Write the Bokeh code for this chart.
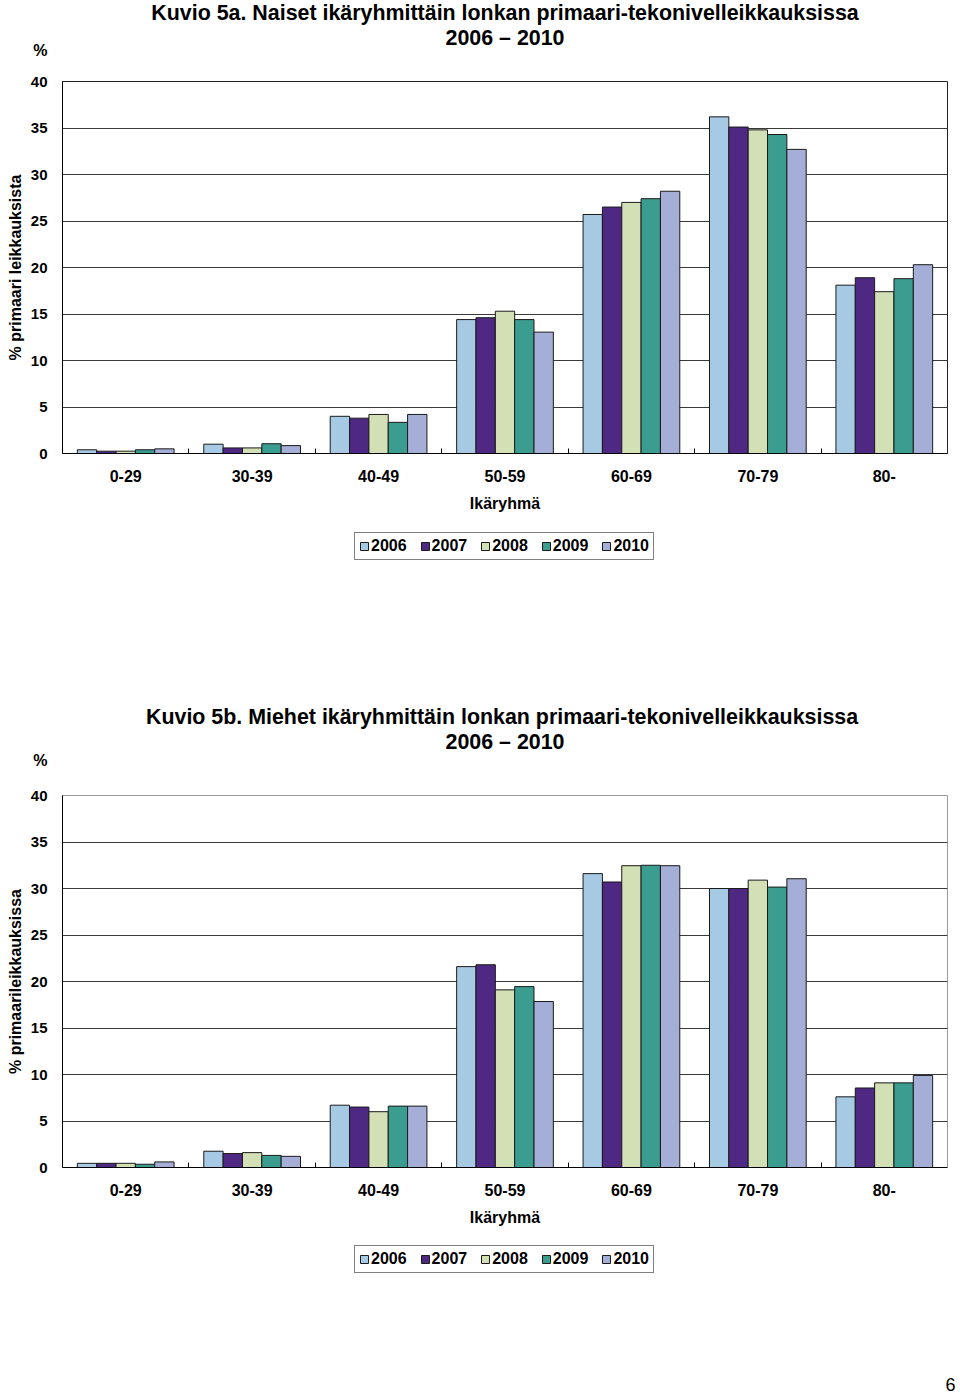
from bokeh.plotting import figure
from bokeh.models import (Range1d, FixedTicker, Label, Legend, LegendItem,
                          ColumnDataSource)
from bokeh.transform import dodge
from bokeh.layouts import column
from bokeh.embed import file_html
from bokeh.resources import INLINE

# ---------------- data ----------------
age_groups = ["0-29", "30-39", "40-49", "50-59", "60-69", "70-79", "80-"]
years = ["2006", "2007", "2008", "2009", "2010"]

women_2006 = [0.4, 1.0, 4.0, 14.4, 25.7, 36.2, 18.1]
women_2007 = [0.25, 0.6, 3.8, 14.6, 26.5, 35.1, 18.9]
women_2008 = [0.25, 0.6, 4.2, 15.3, 27.0, 34.8, 17.4]
women_2009 = [0.4, 1.05, 3.35, 14.4, 27.4, 34.3, 18.8]
women_2010 = [0.5, 0.85, 4.2, 13.05, 28.2, 32.7, 20.3]

men_2006 = [0.45, 1.75, 6.7, 21.6, 31.6, 30.0, 7.6]
men_2007 = [0.45, 1.5, 6.5, 21.8, 30.7, 30.0, 8.55]
men_2008 = [0.45, 1.6, 6.0, 19.1, 32.45, 30.9, 9.1]
men_2009 = [0.35, 1.3, 6.6, 19.45, 32.5, 30.15, 9.1]
men_2010 = [0.6, 1.2, 6.6, 17.85, 32.45, 31.05, 9.9]

y_ticks = [0, 5, 10, 15, 20, 25, 30, 35, 40]

title_a = "Kuvio 5a. Naiset ikäryhmittäin lonkan primaari-tekonivelleikkauksissa"
title_b = "Kuvio 5b. Miehet ikäryhmittäin  lonkan primaari-tekonivelleikkauksissa"
subtitle = "2006 – 2010"
ylabel_a = "% primaari leikkauksista"
ylabel_b = "% primaarileikkauksissa"
xlabel = "Ikäryhmä"
unit_label = "%"
page_number = "6"

colors = ["#A7CAE4", "#4F2884", "#D3DFB4", "#3A9D8F", "#A4AED6"]
FONT = "Liberation Sans"
OUTLINE = "#1a1a1a"
W = 952
LEFT = 62
RIGHT = 5
FRAME_H = 372


def make_source(series):
    data = {"x": [i + 0.5 for i in range(len(age_groups))]}
    for yr, vals in zip(years, series):
        data["y" + yr] = vals
    return ColumnDataSource(data)


def chart(src, height, top, ylabel, outline_color, grid_ticks):
    bottom = height - top - FRAME_H
    p = figure(width=W, height=height, x_range=Range1d(0, 7), y_range=Range1d(0, 40),
               output_backend="svg", toolbar_location=None,
               min_border_left=LEFT, min_border_right=RIGHT,
               min_border_top=top, min_border_bottom=bottom)
    p.background_fill_color = "white"
    p.border_fill_color = "white"
    p.outline_line_color = outline_color
    p.outline_line_width = 1

    bw = 0.153
    for k, yr in enumerate(years):
        p.vbar(x=dodge("x", (k - 2) * bw, range=p.x_range), top="y" + yr,
               width=bw, source=src, fill_color=colors[k],
               line_color=OUTLINE, line_width=1)

    xa = p.xaxis[0]
    xa.ticker = FixedTicker(ticks=[i + 0.5 for i in range(len(age_groups))],
                            minor_ticks=[i for i in range(1, len(age_groups))])
    xa.major_label_overrides = {i + 0.5: g for i, g in enumerate(age_groups)}
    xa.major_tick_in = 0
    xa.major_tick_out = 0
    xa.minor_tick_in = 5
    xa.minor_tick_out = 0
    xa.minor_tick_line_color = "black"
    xa.axis_line_color = "black"
    xa.major_label_text_font = FONT
    xa.major_label_text_font_style = "bold"
    xa.major_label_text_font_size = "16px"
    xa.major_label_text_color = "black"
    xa.major_label_standoff = 16
    xa.axis_label = xlabel
    xa.axis_label_text_font = FONT
    xa.axis_label_text_font_style = "bold"
    xa.axis_label_text_font_size = "16px"
    xa.axis_label_text_color = "black"
    xa.axis_label_standoff = 10

    ya = p.yaxis[0]
    ya.ticker = FixedTicker(ticks=y_ticks)
    ya.major_tick_in = 0
    ya.major_tick_out = 0
    ya.minor_tick_in = 0
    ya.minor_tick_out = 0
    ya.axis_line_color = "black"
    ya.major_label_text_font = FONT
    ya.major_label_text_font_style = "bold"
    ya.major_label_text_font_size = "15px"
    ya.major_label_text_color = "black"
    ya.major_label_standoff = 15
    ya.axis_label = ylabel
    ya.axis_label_text_font = FONT
    ya.axis_label_text_font_style = "bold"
    ya.axis_label_text_font_size = "16px"
    ya.axis_label_text_color = "black"
    ya.axis_label_standoff = 4

    p.xgrid.visible = False
    p.ygrid.ticker = FixedTicker(ticks=grid_ticks)
    p.ygrid.grid_line_color = "#3a3a3a"
    p.ygrid.grid_line_width = 1
    return p


def strip(page_top, page_bottom, width=W, pct_y=None):
    """Text/legend band; its data units are page pixels (y downward)."""
    s = figure(width=width, height=page_bottom - page_top,
               x_range=Range1d(LEFT, width - RIGHT), y_range=Range1d(page_bottom, page_top),
               x_axis_type=None,
               output_backend="svg", toolbar_location=None,
               min_border_left=LEFT, min_border_right=RIGHT,
               min_border_top=0, min_border_bottom=0)
    s.outline_line_color = None
    s.background_fill_color = "white"
    s.border_fill_color = "white"
    s.xgrid.visible = False
    s.ygrid.visible = False
    ya = s.yaxis[0]
    ya.axis_line_color = None
    ya.major_tick_in = 0
    ya.major_tick_out = 0
    ya.minor_tick_in = 0
    ya.minor_tick_out = 0
    if pct_y is None:
        ya.ticker = FixedTicker(ticks=[])
    else:
        ya.ticker = FixedTicker(ticks=[pct_y])
        ya.major_label_overrides = {pct_y: unit_label}
    ya.major_label_text_font = FONT
    ya.major_label_text_font_style = "bold"
    ya.major_label_text_font_size = "16px"
    ya.major_label_text_color = "black"
    ya.major_label_standoff = 15
    return s


def add_titles(s, title, y1, y2):
    cx = (LEFT + W - RIGHT) / 2
    s.add_layout(Label(x=cx, y=y1, text=title, text_align="center",
                       text_baseline="middle", text_font=FONT, text_font_style="bold",
                       text_font_size="21.4px", text_color="black"))
    s.add_layout(Label(x=cx, y=y2, text=subtitle, text_align="center",
                       text_baseline="middle", text_font=FONT, text_font_style="bold",
                       text_font_size="21.4px", text_color="black"))


def add_legend(s, left_page, bottom_page, page_bottom):
    # legend-only renderers: one NaN row each, so nothing is drawn but the swatch
    dummy = ColumnDataSource({"x": [float("nan")], "top": [float("nan")]})
    items = []
    for k, yr in enumerate(years):
        r = s.vbar(x="x", top="top", width=1, source=dummy, fill_color=colors[k],
                   line_color=OUTLINE, line_width=1)
        items.append(LegendItem(label=yr, renderers=[r]))
    legend = Legend(items=items, orientation="horizontal",
                    location=(left_page - LEFT, page_bottom - bottom_page),
                    label_text_font=FONT, label_text_font_style="bold",
                    label_text_font_size="16px", label_text_color="black",
                    glyph_width=10, glyph_height=10, label_height=16,
                    label_standoff=2, spacing=13, padding=4, margin=0,
                    border_line_color="black", border_line_width=1,
                    background_fill_color="white", background_fill_alpha=1)
    s.add_layout(legend, "center")


srcA = make_source([women_2006, women_2007, women_2008, women_2009, women_2010])
srcB = make_source([men_2006, men_2007, men_2008, men_2009, men_2010])

head = strip(0, 68, pct_y=50)
add_titles(head, title_a, 12, 37)

pA = chart(srcA, height=452, top=13, ylabel=ylabel_a, outline_color="#222222",
           grid_ticks=y_ticks)

mid = strip(520, 784, pct_y=760)
add_legend(mid, 354, 560, 784)
add_titles(mid, title_b, 716, 741)

pB = chart(srcB, height=456, top=11, ylabel=ylabel_b, outline_color="#9a9a9a",
           grid_ticks=y_ticks[:-1])

foot = strip(1240, 1394, width=960)
add_legend(foot, 354, 1273, 1394)
foot.add_layout(Label(x=950, y=1384, text=page_number, text_align="center",
                      text_baseline="middle", text_font=FONT,
                      text_font_size="18px", text_color="black"))

layout = column(head, pA, mid, pB, foot)
open("out.html", "w").write(file_html(layout, INLINE))
